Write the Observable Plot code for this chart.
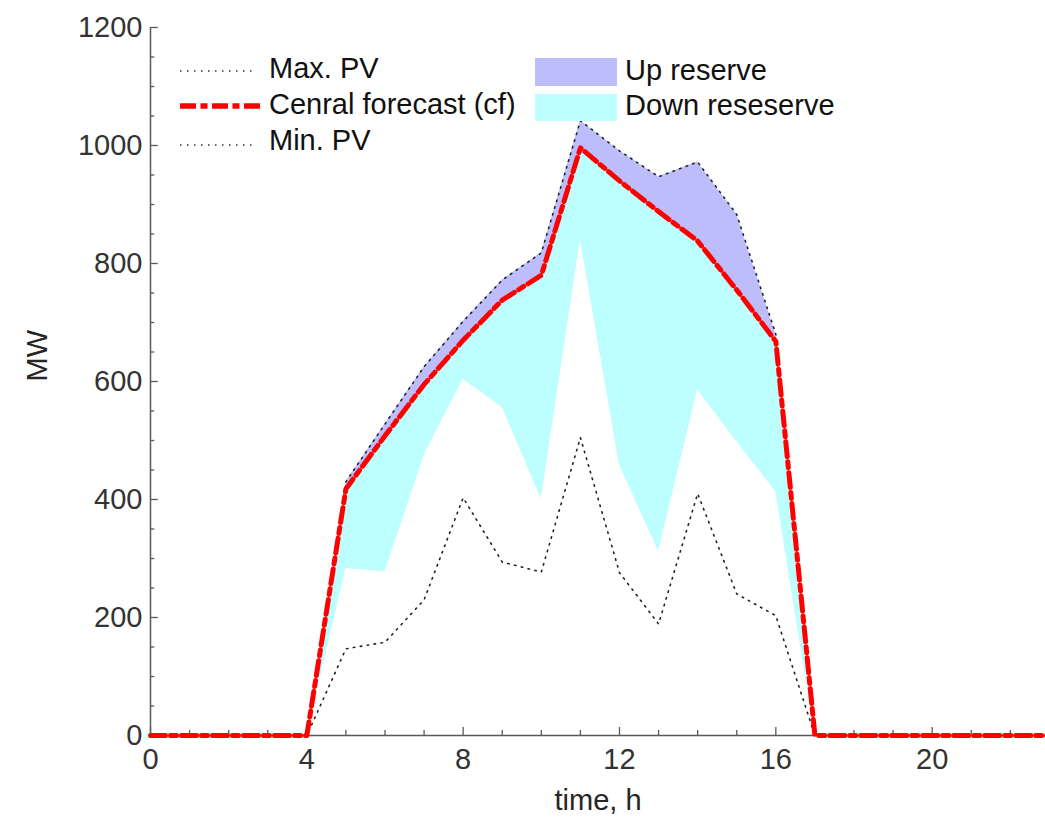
<!DOCTYPE html>
<html>
<head>
<meta charset="utf-8">
<script src="https://cdn.jsdelivr.net/npm/d3@7"></script>
<script src="https://cdn.jsdelivr.net/npm/@observablehq/plot@0.6"></script>
<style>
  html, body { margin: 0; padding: 0; background: #fff; overflow: hidden; }
  #wrap { position: relative; width: 1045px; height: 821px; }
  #legend { position: absolute; left: 0; top: 0; pointer-events: none; }
  text { font-family: "Liberation Sans", Arial, sans-serif; }
</style>
</head>
<body>
<div id="wrap"></div>
<script>
// ---- data ----
const hours = d3.range(0, 24);
const centralForecast = [0,0,0,0,0,418,508,595,670,738,780,996,940,888,838,755,668,0,0,0,0,0,0,0];
const maxPV          = [0,0,0,0,0,430,528,625,702,772,818,1042,991,947,972,883,680,0,0,0,0,0,0,0];
const minPV          = [0,0,0,0,0,147,158,230,403,294,277,505,276,189,410,240,203,0,0,0,0,0,0,0];
const downLower      = [0,0,0,0,0,283,277,475,604,556,401,840,458,312,586,498,413,0,0,0,0,0,0,0];
const xTickLabels = [0, 4, 8, 12, 16, 20];
const yTickLabels = [0, 200, 400, 600, 800, 1000, 1200];
const xMinorTicks = d3.range(0, 23);
const yMinorTicks = d3.range(0, 1201, 50);
const legendLines = ["Max. PV", "Cenral forecast (cf)", "Min. PV"];
const legendAreas = ["Up reserve", "Down reseserve"];

const upColor = "#bdbdfb";
const downColor = "#bdfefe";
const font = '"Liberation Sans", Arial, sans-serif';
const cfDash = "15,5,6,5";

const rows = hours.map((h, i) => ({
  h, cf: centralForecast[i], max: maxPV[i], min: minPV[i], low: downLower[i]
}));

const axisColor = "#5a5a5a";

const chart = Plot.plot({
  width: 1045,
  height: 821,
  marginTop: 27,
  marginBottom: 86,
  marginLeft: 150,
  marginRight: 0,
  style: { fontFamily: font, background: "white" },
  x: { domain: [0, 22.9] },
  y: { domain: [0, 1200] },
  marks: [
    Plot.areaY(rows, { x: "h", y1: "low", y2: "cf", fill: downColor, curve: "linear" }),
    Plot.areaY(rows, { x: "h", y1: "cf", y2: "max", fill: upColor, curve: "linear" }),
    Plot.lineY(rows, { x: "h", y: "min", stroke: "#222", strokeWidth: 1.6, strokeDasharray: "1.5,5.5" }),
    Plot.lineY(rows, { x: "h", y: "max", stroke: "#222", strokeWidth: 1.6, strokeDasharray: "1.5,5.5" }),
    // axis lines
    Plot.ruleX([0], { stroke: axisColor, strokeWidth: 1.5 }),
    Plot.ruleY([0], { stroke: axisColor, strokeWidth: 1.5 }),
    // inward ticks
    Plot.ruleX(xMinorTicks, { x: d => d, y1: 0, y2: d => (d % 4 === 0 ? 13.6 : 8.5), stroke: axisColor, strokeWidth: 1.3 }),
    Plot.ruleY(yMinorTicks, { y: d => d, x1: 0, x2: d => (d % 200 === 0 ? 0.2 : 0.11), stroke: axisColor, strokeWidth: 1.3 }),
    // central forecast (light halo + red dash-dot)
    Plot.lineY(rows, { x: "h", y: "cf", stroke: "white", strokeOpacity: 0.7, strokeWidth: 3, strokeLinejoin: "round" }),
    Plot.lineY(rows, { x: "h", y: "cf", stroke: "#ff0000", strokeWidth: 5, strokeDasharray: cfDash, strokeLinejoin: "round" }),
    // tick labels
    Plot.axisX({ ticks: xTickLabels, tickSize: 0, tickPadding: 13, fontSize: 29, color: "#333", label: null, tickFormat: d3.format("d") }),
    Plot.axisY({ ticks: yTickLabels, tickSize: 0, tickPadding: 8, fontSize: 29, color: "#333", label: null, tickFormat: d3.format("d") }),
    // axis titles
    Plot.text(["time, h"], { frameAnchor: "bottom", dy: 65, fontSize: 29, fill: "#262626", lineAnchor: "middle" }),
    Plot.text(["MW"], { frameAnchor: "left", dx: -113, rotate: -90, fontSize: 29, fill: "#262626", lineAnchor: "middle" })
  ]
});

const wrap = document.getElementById("wrap");
wrap.appendChild(chart);

// ---- legend overlay ----
const lg = d3.select(wrap).append("svg")
  .attr("id", "legend").attr("width", 1045).attr("height", 821);

const lineStyles = [
  { stroke: "#333", width: 1.6, dash: "1.5,5.5", y: 71, ty: 68, x2: 257 },
  { stroke: "#ff0000", width: 5.5, dash: "16,4.5,7,4.5", y: 106, ty: 104, x2: 263 },
  { stroke: "#333", width: 1.6, dash: "1.5,5.5", y: 145, ty: 140, x2: 257 }
];
legendLines.forEach((label, i) => {
  const s = lineStyles[i];
  lg.append("line").attr("x1", 180).attr("x2", s.x2).attr("y1", s.y).attr("y2", s.y)
    .attr("stroke", s.stroke).attr("stroke-width", s.width).attr("stroke-dasharray", s.dash);
  lg.append("text").attr("x", 269).attr("y", s.ty).attr("dy", "0.35em")
    .attr("font-size", 29).attr("fill", "#111").text(label);
});
const areaStyles = [
  { fill: upColor, y: 58, h: 28, ty: 70 },
  { fill: downColor, y: 94, h: 27, ty: 105 }
];
legendAreas.forEach((label, i) => {
  const s = areaStyles[i];
  lg.append("rect").attr("x", 535).attr("y", s.y).attr("width", 82).attr("height", s.h).attr("fill", s.fill);
  lg.append("text").attr("x", 625).attr("y", s.ty).attr("dy", "0.35em")
    .attr("font-size", 29).attr("fill", "#111").text(label);
});
</script>
</body>
</html>
